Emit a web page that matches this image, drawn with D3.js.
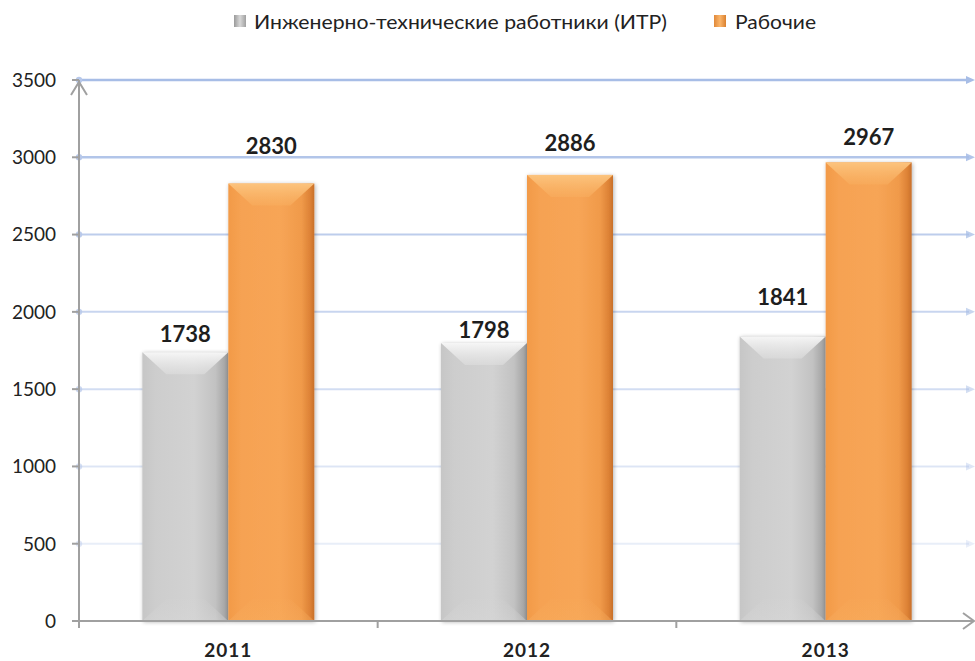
<!DOCTYPE html>
<html><head><meta charset="utf-8">
<script src="https://cdn.jsdelivr.net/npm/d3@7"></script>
<style>
html,body{margin:0;padding:0;background:#fff;}
svg{display:block;font-family:Lato,"Open Sans",sans-serif;}
</style></head>
<body><svg id="c" width="975" height="661"></svg>
<script>
const years = ["2011","2012","2013"];
const seriesNames = ["Инженерно-технические работники (ИТР)","Рабочие"];
const itr = [1738,1798,1841];
const workers = [2830,2886,2967];
const yTicks = [0,500,1000,1500,2000,2500,3000,3500];
// label gap above bar (layout only)
const labelGap = [[10,30],[5,24],[31,17]];

const svg = d3.select("#c");
const defs = svg.append("defs");
const X0 = 79, X1 = 975, Y0 = 621, Y1 = 80;
const x = d3.scaleBand().domain(years).range([X0, X1]).padding(0);
const y = d3.scaleLinear().domain([0,3500]).range([Y0, Y1]);
const GW = 172;
const sub = d3.scaleBand().domain([0,1]).range([0,GW]);
const groupOff = (x.bandwidth() - GW)/2;

function hgrad(id, stops){
  const g = defs.append("linearGradient").attr("id",id).attr("x1","0").attr("x2","1").attr("y1","0").attr("y2","0");
  stops.forEach(s=>g.append("stop").attr("offset",s[0]).attr("stop-color",s[1]));
}
function vgrad(id, stops){
  const g = defs.append("linearGradient").attr("id",id).attr("x1","0").attr("x2","0").attr("y1","0").attr("y2","1");
  stops.forEach(s=>g.append("stop").attr("offset",s[0]).attr("stop-color",s[1]).attr("stop-opacity",s[2]===undefined?1:s[2]));
}
hgrad("gGray",[[0,"#c6c6c6"],[0.15,"#cdcdcd"],[0.6,"#d2d2d2"],[0.85,"#c2c2c2"],[0.95,"#a9a9a9"],[1,"#979797"]]);
hgrad("gOrg",[[0,"#f29a48"],[0.15,"#f6a252"],[0.6,"#f7a556"],[0.85,"#f09a4a"],[0.95,"#dd8236"],[1,"#c8702a"]]);
vgrad("tGray",[[0,"#f6f6f6"],[1,"#dedede",0.6]]);
vgrad("tOrg",[[0,"#fcc47e"],[1,"#f8ad5e",0.6]]);
vgrad("bGray",[[0,"#d6d6d6",0.2],[1,"#d8d8d8",0.9]]);
vgrad("bOrg",[[0,"#f8ad5e",0.2],[1,"#f8ad5e",0.9]]);
hgrad("lg0",[[0,"#9a9a9a"],[0.5,"#d8d8d8"],[1,"#a0a0a0"]]);
hgrad("lg1",[[0,"#e0893a"],[0.5,"#fbb56a"],[1,"#d9802f"]]);
const f = defs.append("filter").attr("id","sh").attr("x","-20%").attr("y","-20%").attr("width","140%").attr("height","140%");
f.append("feGaussianBlur").attr("in","SourceAlpha").attr("stdDeviation",2).attr("result","b");
f.append("feOffset").attr("in","b").attr("dx",1).attr("dy",1).attr("result","o");
f.append("feComponentTransfer").attr("in","o").attr("result","o2").append("feFuncA").attr("type","linear").attr("slope",0.3);
const fm = f.append("feMerge"); fm.append("feMergeNode").attr("in","o2"); fm.append("feMergeNode").attr("in","SourceGraphic");

// gridlines
const gridOpacity = d3.scaleLinear().domain([500,3500]).range([0.25,1]);
const grid = svg.append("g");
yTicks.filter(t=>t>0).forEach(t=>{
  const yy = y(t), op = gridOpacity(t), w = t>=3000?2.5:2;
  grid.append("line").attr("x1",X0).attr("x2",X1-6).attr("y1",yy).attr("y2",yy)
    .attr("stroke","#a7bde6").attr("stroke-width",w).attr("opacity",op);
  grid.append("path").attr("d",`M${X1-9},${yy-4}L${X1},${yy}L${X1-9},${yy+4}Z`).attr("fill","#a7bde6").attr("opacity",op);
  grid.append("circle").attr("cx",X0).attr("cy",yy).attr("r",3.2).attr("fill","#b7c8ea").attr("opacity",Math.min(1,op+0.2));
});

// y axis
const ax = svg.append("g").attr("stroke","#a0a0a0").attr("fill","none");
ax.append("line").attr("x1",X0).attr("x2",X0).attr("y1",Y0).attr("y2",Y1).attr("stroke-width",2);
ax.append("path").attr("d",`M${X0-8},${Y1+15}L${X0},${Y1+2}L${X0+8},${Y1+15}`).attr("stroke-width",2);
yTicks.forEach(t=>ax.append("line").attr("x1",X0-7).attr("x2",X0).attr("y1",y(t)).attr("y2",y(t)).attr("stroke-width",2));
svg.append("g").selectAll("text").data(yTicks).join("text")
  .attr("x",56).attr("y",d=>y(d)).attr("dy","0.36em").attr("text-anchor","end")
  .attr("font-size",19).attr("fill","#222").text(d=>d);

// bars
const data = years.map((yr,i)=>({yr, vals:[itr[i],workers[i]], i}));
const bw = sub.bandwidth();
const bars = svg.append("g");
data.forEach(d=>{
  d.vals.forEach((v,k)=>{
    const bx = x(d.yr)+groupOff+sub(k), by = y(v), bh = Y0-by;
    const g = bars.append("g").attr("filter","url(#sh)");
    g.append("rect").attr("x",bx).attr("y",by).attr("width",bw).attr("height",bh)
      .attr("fill",k===0?"url(#gGray)":"url(#gOrg)");
    const bev = 22, ins = 24;
    g.append("path").attr("d",`M${bx},${by}L${bx+bw},${by}L${bx+bw-ins},${by+bev}L${bx+ins},${by+bev}Z`)
      .attr("fill",k===0?"url(#tGray)":"url(#tOrg)");
    g.append("path").attr("d",`M${bx},${Y0}L${bx+bw},${Y0}L${bx+bw-ins},${Y0-bev}L${bx+ins},${Y0-bev}Z`)
      .attr("fill",k===0?"url(#bGray)":"url(#bOrg)").attr("opacity",0.5);
  });
});
// value labels
data.forEach(d=>{
  d.vals.forEach((v,k)=>{
    svg.append("text").attr("x",x(d.yr)+groupOff+sub(k)+bw/2).attr("y",y(v)-labelGap[d.i][k])
      .attr("text-anchor","middle").attr("font-size",22).attr("font-weight","bold").attr("fill","#1e1e1e").text(v);
  });
});

// x axis
const xa = svg.append("g").attr("stroke","#a0a0a0").attr("fill","none");
xa.append("line").attr("x1",X0).attr("x2",X1-1).attr("y1",Y0).attr("y2",Y0).attr("stroke-width",2);
xa.append("path").attr("d",`M${X1-12},${Y0-8}L${X1-1},${Y0}L${X1-12},${Y0+8}`).attr("stroke-width",2);
years.forEach(yr=>xa.append("line").attr("x1",x(yr)).attr("x2",x(yr)).attr("y1",Y0).attr("y2",Y0+7).attr("stroke-width",2));
svg.append("g").selectAll("text").data(years).join("text")
  .attr("x",d=>x(d)+x.bandwidth()/2).attr("y",657).attr("text-anchor","middle")
  .attr("font-size",19).attr("font-weight","bold").attr("letter-spacing",1).attr("fill","#222").text(d=>d);

// legend
const lx = [234, 714], tx = [254, 735], tl = [413, 81];
seriesNames.forEach((n,i)=>{
  svg.append("rect").attr("x",lx[i]).attr("y",15).attr("width",12).attr("height",12).attr("fill",`url(#lg${i})`);
  svg.append("text").attr("x",tx[i]).attr("y",29).attr("font-size",20).attr("fill","#222")
    .attr("textLength",tl[i]).attr("lengthAdjust","spacingAndGlyphs").text(n);
});
</script></body></html>
